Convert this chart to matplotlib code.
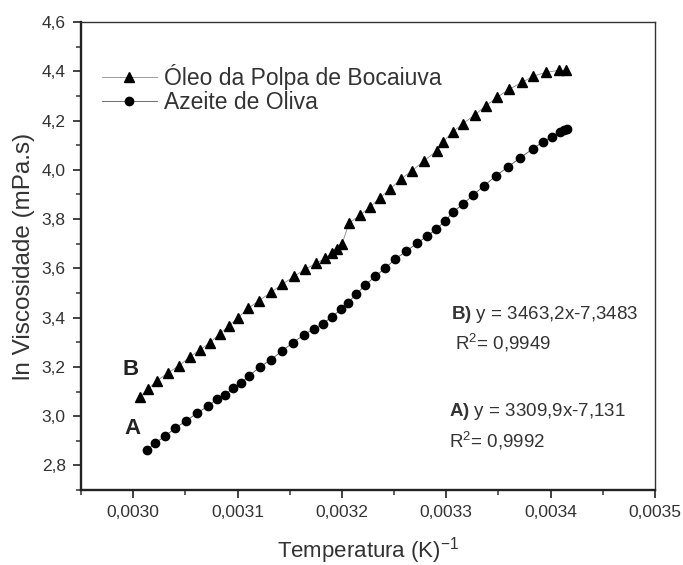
import matplotlib
matplotlib.use("Agg")
import matplotlib.pyplot as plt
from matplotlib.ticker import MultipleLocator, FuncFormatter

plt.rcParams['font.family'] = ['Liberation Sans', 'DejaVu Sans']
plt.rcParams['mathtext.fontset'] = 'custom'
plt.rcParams['mathtext.rm'] = 'Liberation Sans'
plt.rcParams['mathtext.bf'] = 'Liberation Sans:bold'
plt.rcParams['mathtext.it'] = 'Liberation Sans:italic'

# Series B: Óleo da Polpa de Bocaiuva (triangles)
x_b = [0.0030064, 0.0030141, 0.0030227, 0.0030333, 0.0030438, 0.0030544, 0.0030640,
       0.0030735, 0.0030831, 0.0030918, 0.0031004, 0.0031100, 0.0031205, 0.0031320,
       0.0031426, 0.0031541, 0.0031646, 0.0031752, 0.0031838, 0.0031905, 0.0031953,
       0.0032001, 0.0032068, 0.0032174, 0.0032269, 0.0032365, 0.0032461, 0.0032567,
       0.0032672, 0.0032787, 0.0032912, 0.0032969, 0.0033065, 0.0033161, 0.0033276,
       0.0033382, 0.0033487, 0.0033602, 0.0033727, 0.0033832, 0.0033957, 0.0034082,
       0.0034149]
y_b = [3.078, 3.110, 3.143, 3.176, 3.204, 3.241, 3.269, 3.298, 3.335, 3.367, 3.400,
       3.437, 3.469, 3.502, 3.535, 3.567, 3.596, 3.620, 3.641, 3.661, 3.678, 3.698,
       3.784, 3.816, 3.849, 3.886, 3.922, 3.963, 3.996, 4.037, 4.078, 4.114, 4.155,
       4.188, 4.224, 4.261, 4.294, 4.327, 4.355, 4.380, 4.396, 4.404, 4.404]

# Series A: Azeite de Oliva (circles)
x_a = [0.0030131, 0.0030208, 0.0030304, 0.0030400, 0.0030505, 0.0030611, 0.0030716,
       0.0030803, 0.0030879, 0.0030956, 0.0031033, 0.0031109, 0.0031215, 0.0031320,
       0.0031426, 0.0031531, 0.0031637, 0.0031733, 0.0031819, 0.0031905, 0.0031991,
       0.0032059, 0.0032135, 0.0032221, 0.0032317, 0.0032413, 0.0032509, 0.0032615,
       0.0032720, 0.0032816, 0.0032902, 0.0032989, 0.0033065, 0.0033161, 0.0033257,
       0.0033362, 0.0033477, 0.0033592, 0.0033708, 0.0033832, 0.0033928, 0.0034015,
       0.0034091, 0.0034130, 0.0034158]
y_a = [2.861, 2.890, 2.918, 2.951, 2.980, 3.012, 3.041, 3.069, 3.086, 3.114, 3.135,
       3.163, 3.200, 3.229, 3.265, 3.298, 3.331, 3.355, 3.376, 3.404, 3.433, 3.461,
       3.494, 3.531, 3.567, 3.600, 3.637, 3.669, 3.702, 3.731, 3.759, 3.792, 3.829,
       3.861, 3.898, 3.935, 3.976, 4.012, 4.049, 4.086, 4.114, 4.135, 4.155, 4.163,
       4.167]

label_b = "Óleo da Polpa de Bocaiuva"
label_a = "Azeite de Oliva"

fig = plt.figure(figsize=(6.83, 5.65), dpi=100)
ax = fig.add_axes([0.1186, 0.1327, 0.8404, 0.8283])

ax.plot(x_b, y_b, color='#8a8a8a', lw=0.6, marker='^', ms=7.2,
        mfc='black', mec='black', label=label_b)
ax.plot(x_a, y_a, color='#555555', lw=0.6, marker='o', ms=6,
        mfc='black', mec='black', label=label_a)

ax.set_xlim(0.00295, 0.0035)
ax.set_ylim(2.7, 4.6)
ax.xaxis.set_major_locator(MultipleLocator(0.0001))
ax.xaxis.set_minor_locator(MultipleLocator(0.00005))
ax.yaxis.set_major_locator(MultipleLocator(0.2))
ax.yaxis.set_minor_locator(MultipleLocator(0.1))
ax.xaxis.set_major_formatter(FuncFormatter(lambda v, p: f"{v:.4f}".replace('.', ',')))
ax.yaxis.set_major_formatter(FuncFormatter(lambda v, p: f"{v:.1f}".replace('.', ',')))

ax.tick_params(which='both', direction='out', top=False, right=False,
               labelsize=12.5, colors='#333333', pad=5)
ax.tick_params(which='major', length=6, width=1.3)
ax.tick_params(which='minor', length=3.5, width=1.1)

for s in ['left', 'bottom']:
    ax.spines[s].set_linewidth(1.7)
    ax.spines[s].set_color('#222222')
for s in ['top', 'right']:
    ax.spines[s].set_linewidth(1.0)
    ax.spines[s].set_color('#333333')

ax.set_xlabel("Temperatura (K)$^{\\mathregular{-1}}$", fontsize=16, color='#333333', labelpad=11)
ax.set_ylabel("ln Viscosidade (mPa.s)", fontsize=17.5, color='#333333', labelpad=5)

leg = ax.legend(loc='upper left', bbox_to_anchor=(0.02, 0.93), frameon=False,
                fontsize=16.5, handlelength=2.4, handletextpad=0.3,
                labelspacing=0.05, borderaxespad=0.0)
for t in leg.get_texts():
    t.set_color('#333333')

ax.text(0.00299, 3.19, "B", fontsize=16, fontweight='bold', color='#222222',
        ha='left', va='center')
ax.text(0.002992, 2.951, "A", fontsize=16, fontweight='bold', color='#222222',
        ha='left', va='center')

eq_kw = dict(fontsize=13.5, color='#333333', ha='left', va='center')
ax.text(0.0033045, 3.414, "$\\mathbf{B)}$ y = 3463,2x-7,3483", **eq_kw)
ax.text(0.0033085, 3.296, "R$^{\\mathregular{2}}$= 0,9949", **eq_kw)
ax.text(0.0033025, 3.020, "$\\mathbf{A)}$ y = 3309,9x-7,131", **eq_kw)
ax.text(0.0033025, 2.898, "R$^{\\mathregular{2}}$= 0,9992", **eq_kw)

fig.savefig("out.png", dpi=100)
